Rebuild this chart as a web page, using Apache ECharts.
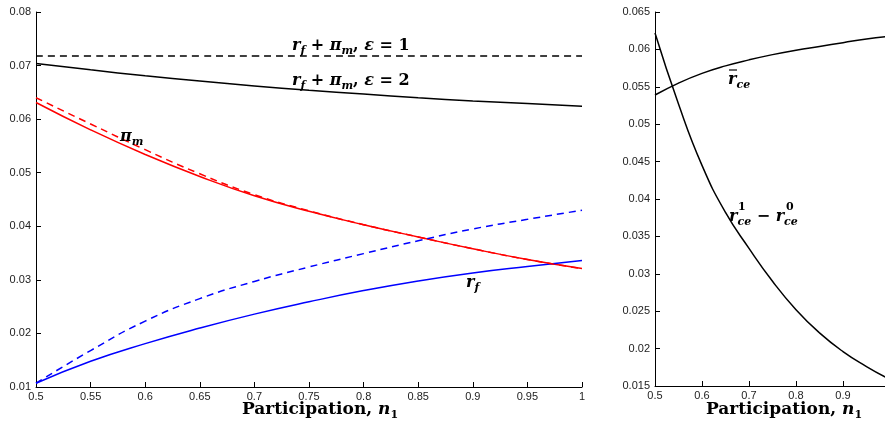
<!DOCTYPE html>
<html>
<head>
<meta charset="utf-8">
<script src="https://cdn.jsdelivr.net/npm/echarts@6/dist/echarts.min.js"></script>
<style>
  html, body { margin: 0; padding: 0; background: #fff; }
  #chart { width: 885px; height: 421px; }
</style>
</head>
<body>
<div id="chart"></div>
<script>
// left panel: participation n1 vs rates
const nLeft = [0.5, 0.55, 0.6, 0.65, 0.7, 0.75, 0.8, 0.85, 0.9, 0.95, 1.0]
const rfPiEps1 = [0.0718, 0.0718, 0.0718, 0.0718, 0.0718, 0.0718, 0.0718, 0.0718, 0.0718, 0.0718, 0.0718]
const rfPiEps2 = [0.0704, 0.0692, 0.0681, 0.0671, 0.0662, 0.0654, 0.0647, 0.0640, 0.0634, 0.0629, 0.0624]
const piSolid = [0.0631, 0.0580, 0.0534, 0.0493, 0.0457, 0.0428, 0.0403, 0.0380, 0.0358, 0.0338, 0.0321]
const piDashed = [0.0640, 0.0591, 0.0543, 0.0498, 0.0459, 0.0429, 0.0403, 0.0380, 0.0358, 0.0338, 0.0321]
const rfSolid = [0.0107, 0.0148, 0.0181, 0.0210, 0.0236, 0.0259, 0.0280, 0.0298, 0.0313, 0.0325, 0.0336]
const rfDashed = [0.0107, 0.0168, 0.0223, 0.0265, 0.0297, 0.0324, 0.0349, 0.0373, 0.0395, 0.0413, 0.0430]

// right panel
const nRight = [0.5, 0.55, 0.6, 0.65, 0.7, 0.75, 0.8, 0.85, 0.9, 0.95, 0.99]
const rceBar = [0.0539, 0.0555, 0.0568, 0.0578, 0.0586, 0.0593, 0.0599, 0.0604, 0.0609, 0.0614, 0.0617]
const rceDiff = [0.0622, 0.0527, 0.0445, 0.0382, 0.0334, 0.0290, 0.0252, 0.0221, 0.0196, 0.0176, 0.0162]

const pairs = (xs, ys) => xs.map((x, i) => [x, ys[i]])

const labelFont = { color: '#222', fontSize: 11, fontFamily: 'Liberation Sans' }
const axisLine = { show: true, lineStyle: { color: '#000', width: 1 } }
const axisTick = { show: true, inside: true, length: 5, lineStyle: { color: '#000' } }

function xAx(grid, interval) {
  return {
    type: 'value', gridIndex: grid, min: 0.5, max: 1, interval: interval,
    axisLine: axisLine, axisTick: axisTick,
    axisLabel: Object.assign({ margin: 4 }, labelFont),
    splitLine: { show: false }
  }
}
function yAx(grid, min, max, interval) {
  return {
    type: 'value', gridIndex: grid, min: min, max: max, interval: interval,
    axisLine: axisLine, axisTick: axisTick,
    axisLabel: Object.assign({ margin: 5 }, labelFont),
    splitLine: { show: false }
  }
}

function line(name, xs, ys, color, dashed, grid) {
  return {
    name: name, type: 'line', xAxisIndex: grid, yAxisIndex: grid,
    data: pairs(xs, ys), smooth: true, showSymbol: false, symbol: 'none',
    lineStyle: { color: color, width: 1.5, type: dashed ? [7, 5] : 'solid' },
    z: dashed ? 3 : 2
  }
}

// rich text styles for the math labels
const M = 'DejaVu Serif'
const rich = {
  m: { fontFamily: M, fontSize: 16, fontWeight: 'bold', fontStyle: 'italic', lineHeight: 22, verticalAlign: 'middle' },
  t: { fontFamily: M, fontSize: 16, fontWeight: 'bold', lineHeight: 22, verticalAlign: 'middle' },
  s: { fontFamily: M, fontSize: 11, fontWeight: 'bold', fontStyle: 'italic', lineHeight: 10, verticalAlign: 'bottom' },
  n: { fontFamily: M, fontSize: 11, fontWeight: 'bold', lineHeight: 10, verticalAlign: 'bottom' }
}
function txt(x, y, text, align) {
  return {
    type: 'text', x: x, y: y, z: 10,
    style: { text: text, rich: rich, fill: '#000', align: align || 'left', verticalAlign: 'middle' }
  }
}
function xName(x) {
  return {
    type: 'text', x: x, y: 410, z: 10,
    style: {
      text: '{t|Participation, }{m|n}{n|1}', fill: '#000', align: 'center', verticalAlign: 'middle',
      rich: {
        t: { fontFamily: M, fontSize: 17, fontWeight: 'bold', lineHeight: 22, verticalAlign: 'middle' },
        m: { fontFamily: M, fontSize: 17, fontWeight: 'bold', fontStyle: 'italic', lineHeight: 22, verticalAlign: 'middle' },
        n: { fontFamily: M, fontSize: 11, fontWeight: 'bold', lineHeight: 10, verticalAlign: 'bottom' }
      }
    }
  }
}

const chart = echarts.init(document.getElementById('chart'))
chart.setOption({
  animation: false,
  backgroundColor: '#fff',
  grid: [
    { left: 36, top: 12, width: 546, height: 375, outerBoundsMode: 'none' },
    { left: 655, top: 12, width: 235, height: 374, outerBoundsMode: 'none' }
  ],
  xAxis: [xAx(0, 0.05), xAx(1, 0.1)],
  yAxis: [yAx(0, 0.01, 0.08, 0.01), yAx(1, 0.015, 0.065, 0.005)],
  series: [
    line('eps1', nLeft, rfPiEps1, '#000', true, 0),
    line('eps2', nLeft, rfPiEps2, '#000', false, 0),
    line('pi', nLeft, piSolid, '#ff0000', false, 0),
    line('pi dashed', nLeft, piDashed, '#ff0000', true, 0),
    line('rf', nLeft, rfSolid, '#0000ff', false, 0),
    line('rf dashed', nLeft, rfDashed, '#0000ff', true, 0),
    line('rce bar', nRight, rceBar, '#000', false, 1),
    line('rce diff', nRight, rceDiff, '#000', false, 1)
  ],
  graphic: [
    txt(292, 46, '{m|r}{s|f}{t| + }{m|π}{s|m}{t|, }{m|ε}{t| = 1}'),
    txt(292, 81, '{m|r}{s|f}{t| + }{m|π}{s|m}{t|, }{m|ε}{t| = 2}'),
    txt(120, 137, '{m|π}{s|m}'),
    txt(466, 283, '{m|r}{s|f}'),
    txt(728, 80, '{m|r}{s|ce}'),
    { type: 'line', z: 10, shape: { x1: 729, y1: 70, x2: 737, y2: 70 }, style: { stroke: '#000', lineWidth: 1.2 } },
    txt(729, 217, '{m|r}{s|ce}{t| − }{m|r}{s|ce}'),
    txt(738, 208, '{n|1}'),
    txt(786, 208, '{n|0}'),
    xName(320),
    xName(784)
  ]
})
</script>
</body>
</html>
